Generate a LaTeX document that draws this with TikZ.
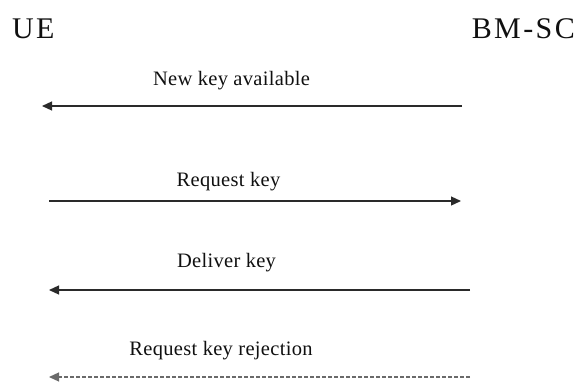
\documentclass[tikz,border=0pt]{standalone}
\usepackage{fontspec}
\setmainfont{Liberation Serif}
\newfontfamily\entfont[LetterSpace=8]{Liberation Serif}
\newfontfamily\lblfont[LetterSpace=1.5]{Liberation Serif}
\usetikzlibrary{arrows.meta}
\definecolor{txt}{HTML}{101010}
\definecolor{solidline}{HTML}{2A2A2A}
\definecolor{dashline}{HTML}{6A6A6A}
\tikzset{
  entity/.style={inner sep=0pt, text=txt, font=\entfont\fontsize{30}{30}\selectfont},
  msglabel/.style={inner sep=0pt, anchor=base, text=txt, font=\lblfont\fontsize{20.5}{20.5}\selectfont},
  msg/.style={draw=solidline, line width=1.2pt, -{Triangle[length=10pt,width=9pt]}},
  msgdash/.style={msg, draw=dashline, dash pattern=on 4pt off 2pt}
}
\begin{document}
\begin{tikzpicture}[x=1pt,y=-1pt]
\useasboundingbox (0,0) rectangle (581,381);
\node[entity, anchor=base west] (ue) at (12,38) {UE};
\node[entity, anchor=base east] (bmsc) at (575,38) {BM-SC};

\node[msglabel] (l1) at (231.5,85) {New key available};
\node[msglabel] (l2) at (228.5,186) {Request key};
\node[msglabel] (l3) at (226.5,267) {Deliver key};
\node[msglabel] (l4) at (221,355) {Request key rejection};

\coordinate (a1s) at (462,106);
\coordinate (a1e) at (42,106);
\coordinate (a2s) at (49,201);
\coordinate (a2e) at (461,201);
\coordinate (a3s) at (470,290);
\coordinate (a3e) at (49,290);
\coordinate (a4s) at (470,377);
\coordinate (a4e) at (49,377);

\draw[msg] (a1s) -- (a1e);
\draw[msg] (a2s) -- (a2e);
\draw[msg] (a3s) -- (a3e);
\draw[msgdash] (a4s) -- (a4e);
\end{tikzpicture}
\end{document}
